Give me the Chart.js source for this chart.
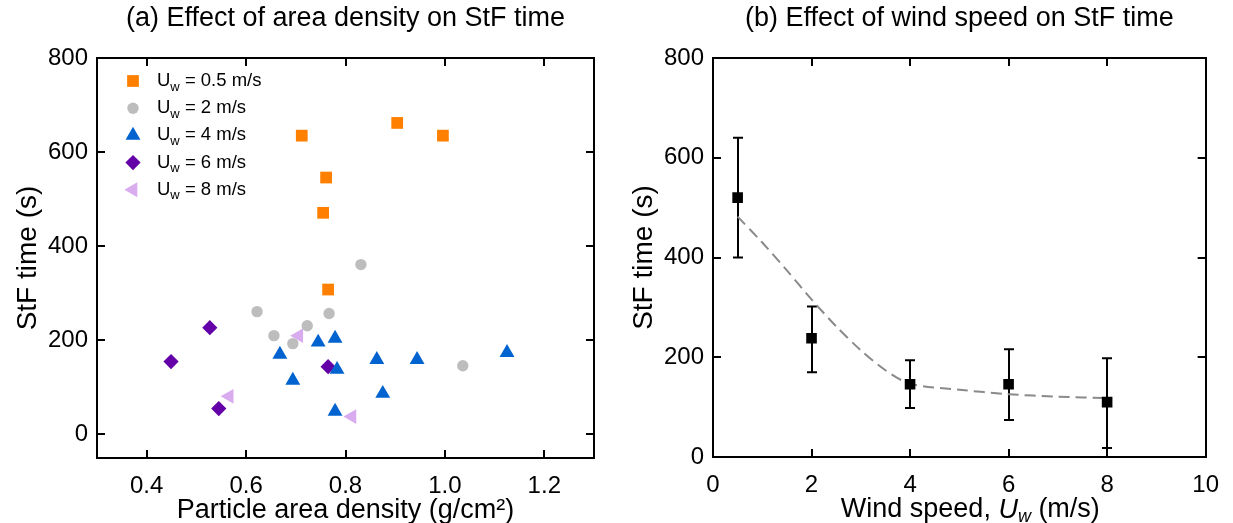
<!DOCTYPE html>
<html><head><meta charset="utf-8">
<script src="https://cdn.jsdelivr.net/npm/chart.js@4.4.1/dist/chart.umd.min.js"></script>
<style>
html,body{margin:0;padding:0;background:#fff;}
#wrap{position:relative;width:1233px;height:523px;background:#fff;}
#ca{position:absolute;left:0;top:0;}
#cb{position:absolute;left:616px;top:0;}
</style></head><body>
<div id="wrap"><canvas id="ca" width="616" height="523"></canvas><canvas id="cb" width="617" height="523"></canvas></div>
<script>
// ---------- DATA ----------
// Panel (a): particle area density (g/cm2) vs StF time (s)
const densityTicks = [0.4, 0.6, 0.8, 1.0, 1.2];
const timeTicksA = [0, 200, 400, 600, 800];
const legendLabels = ['0.5 m/s', '2 m/s', '4 m/s', '6 m/s', '8 m/s'];

const uw05Density = [0.712, 0.904, 0.996, 0.761, 0.755, 0.765];
const uw05Time    = [635, 662, 635, 546, 471, 308];
const uw2Density  = [0.622, 0.656, 0.694, 0.723, 0.767, 0.831, 1.036];
const uw2Time     = [261, 210, 193, 231, 257, 361, 146];
const uw4Density  = [0.668, 0.745, 0.779, 0.694, 0.783, 0.779, 0.863, 0.944, 0.875, 1.125];
const uw4Time     = [170, 196, 204, 115, 138, 49, 159, 159, 87, 174];
const uw6Density  = [0.527, 0.449, 0.545, 0.765];
const uw6Time     = [227, 155, 55, 144];
const uw8Density  = [0.566, 0.706, 0.813];
const uw8Time     = [81, 210, 38];

// Panel (b): wind speed vs StF time (mean with error range) and fitted trend
const windTicks = [0, 2, 4, 6, 8, 10];
const timeTicksB = [0, 200, 400, 600, 800];
const windSpeed = [0.5, 2, 4, 6, 8];
const meanTime  = [520, 238, 146, 146, 110];
const errLow    = [400, 170, 98, 74, 18];
const errHigh   = [640, 302, 194, 216, 198];
const fitWind   = [0.5, 1, 1.5, 2, 2.5, 3, 3.5, 4, 5, 6, 7, 8];
const fitTime   = [482, 430, 374, 316, 262, 214, 174, 147, 135, 126, 121, 118];

// ---------- HELPERS ----------
const FONT = "'Liberation Sans', Arial, Helvetica, sans-serif";
const pts = (xs, ys) => xs.map((x, i) => ({x: x, y: ys[i]}));
const setTicks = vals => s => { s.ticks = vals.map(v => ({value: v})); };
const border = {display: true, color: '#000', width: 2};

function drawMarker(ctx, style, rot, r, x, y, color) {
  ctx.save();
  ctx.fillStyle = color;
  Chart.helpers.drawPoint(ctx, {pointStyle: style, rotation: rot || 0, radius: r, borderWidth: 0}, x, y);
  ctx.restore();
}

const frameTicks = {
  id: 'frameTicks',
  afterDatasetsDraw(chart) {
    const {ctx, chartArea: a} = chart;
    const xs = chart.scales.x, ys = chart.scales.y, L = 8;
    ctx.save();
    ctx.strokeStyle = '#000'; ctx.lineWidth = 2;
    ctx.beginPath();
    xs.ticks.forEach(t => {
      const p = Math.round(xs.getPixelForValue(t.value));
      ctx.moveTo(p, a.bottom); ctx.lineTo(p, a.bottom - L);
      ctx.moveTo(p, a.top); ctx.lineTo(p, a.top + L);
    });
    ys.ticks.forEach(t => {
      const p = Math.round(ys.getPixelForValue(t.value));
      ctx.moveTo(a.left, p); ctx.lineTo(a.left + L, p);
      ctx.moveTo(a.right, p); ctx.lineTo(a.right - L, p);
    });
    ctx.stroke();
    ctx.restore();
  }
};

function titlePlugin(text) {
  return {
    id: 'panelTitle',
    afterDraw(chart) {
      const {ctx, chartArea: a} = chart;
      ctx.save();
      ctx.fillStyle = '#000';
      ctx.font = '27px ' + FONT;
      ctx.textAlign = 'center';
      ctx.textBaseline = 'middle';
      ctx.fillText(text, (a.left + a.right) / 2, 19);
      ctx.restore();
    }
  };
}

function makeScales(xmin, xmax, xt, ymin, ymax, yt, xTitle, xFmt, xH) {
  return {
    x: {type: 'linear', position: 'bottom', min: xmin, max: xmax,
        afterBuildTicks: setTicks(xt), afterFit: s => { s.height = xH; },
        grid: {display: false, drawTicks: false}, border: border,
        ticks: {color: '#000', font: {family: FONT, size: 24}, padding: 14, maxRotation: 0, autoSkip: false, callback: xFmt},
        title: xTitle ? {display: true, text: xTitle, color: '#000', font: {family: FONT, size: 27, lineHeight: 0.95}, padding: {top: 0, bottom: 0}} : {display: false}},
    y: {type: 'linear', position: 'left', min: ymin, max: ymax,
        afterBuildTicks: setTicks(yt), afterFit: s => { s.width = 97; },
        grid: {display: false, drawTicks: false}, border: border,
        ticks: {color: '#000', font: {family: FONT, size: 24}, padding: 9, autoSkip: false},
        title: {display: true, text: 'StF time (s)', color: '#000', font: {family: FONT, size: 28, lineHeight: 1}, padding: {top: 14, bottom: 0}}},
    x2: {type: 'linear', position: 'top', min: xmin, max: xmax, display: true,
        afterFit: s => { s.height = 0; }, grid: {display: false, drawTicks: false}, border: border, ticks: {display: false}},
    y2: {type: 'linear', position: 'right', min: ymin, max: ymax, display: true,
        afterFit: s => { s.width = 0; }, grid: {display: false, drawTicks: false}, border: border, ticks: {display: false}}
  };
}

// ---------- PANEL (a) ----------
const seriesA = [
  {xs: uw05Density, ys: uw05Time, style: 'rect', rot: 0, r: 8.3, color: '#FF8000'},
  {xs: uw2Density, ys: uw2Time, style: 'circle', rot: 0, r: 5.7, color: '#BDBDBD'},
  {xs: uw4Density, ys: uw4Time, style: 'triangle', rot: 0, r: 8.6, color: '#0063CF'},
  {xs: uw6Density, ys: uw6Time, style: 'rectRot', rot: 0, r: 7.6, color: '#6300A8'},
  {xs: uw8Density, ys: uw8Time, style: 'triangle', rot: 270, r: 8.6, color: '#D8ACEE'}
];

const legendA = {
  id: 'legendA',
  afterDraw(chart) {
    const ctx = chart.ctx;
    ctx.save();
    seriesA.forEach((s, i) => {
      const y = 81 + i * 27.2;
      drawMarker(ctx, s.style, s.rot, s.r, 133, y, s.color);
      ctx.fillStyle = '#000';
      ctx.textBaseline = 'middle';
      ctx.textAlign = 'left';
      ctx.font = '18.5px ' + FONT;
      let x = 157;
      ctx.fillText('U', x, y);
      x += ctx.measureText('U').width;
      ctx.font = '13px ' + FONT;
      ctx.fillText('w', x, y + 6);
      x += ctx.measureText('w').width;
      ctx.font = '18.5px ' + FONT;
      ctx.fillText(' = ' + legendLabels[i], x, y);
    });
    ctx.restore();
  }
};

new Chart(document.getElementById('ca'), {
  type: 'scatter',
  data: {
    datasets: seriesA.map((s, i) => ({
      label: 'Uw = ' + legendLabels[i],
      data: pts(s.xs, s.ys),
      pointStyle: s.style, pointRotation: s.rot, pointRadius: s.r, pointHoverRadius: s.r,
      pointBackgroundColor: s.color, pointBorderWidth: 0, backgroundColor: s.color, borderColor: s.color
    }))
  },
  options: {
    responsive: false, animation: false, devicePixelRatio: 1,
    layout: {padding: {left: 0, top: 58, right: 22, bottom: 0}},
    plugins: {legend: {display: false}, tooltip: {enabled: false}},
    scales: makeScales(0.3, 1.3, densityTicks, -50, 800, timeTicksA, 'Particle area density (g/cm²)', v => Number(v).toFixed(1), 65)
  },
  plugins: [frameTicks, legendA, titlePlugin('(a) Effect of area density on StF time')]
});

// ---------- PANEL (b) ----------
const errorBars = {
  id: 'errorBars',
  beforeDatasetsDraw(chart) {
    const {ctx} = chart;
    const xs = chart.scales.x, ys = chart.scales.y, cap = 5;
    ctx.save();
    ctx.strokeStyle = '#000'; ctx.lineWidth = 2;
    ctx.beginPath();
    windSpeed.forEach((w, i) => {
      const px = Math.round(xs.getPixelForValue(w));
      const lo = ys.getPixelForValue(errLow[i]), hi = ys.getPixelForValue(errHigh[i]);
      ctx.moveTo(px, lo); ctx.lineTo(px, hi);
      ctx.moveTo(px - cap, lo); ctx.lineTo(px + cap, lo);
      ctx.moveTo(px - cap, hi); ctx.lineTo(px + cap, hi);
    });
    ctx.stroke();
    ctx.restore();
  }
};

const xTitleB = {
  id: 'xTitleB',
  afterDraw(chart) {
    const {ctx, chartArea: a} = chart;
    const big = '27px ' + FONT, bigI = 'italic 27px ' + FONT, small = 'italic 18px ' + FONT;
    const parts = [['Wind speed, ', big, 0], ['U', bigI, 0], ['w', small, 7], [' (m/s)', big, 0]];
    ctx.save();
    let total = 0;
    parts.forEach(p => { ctx.font = p[1]; total += ctx.measureText(p[0]).width; });
    let x = (a.left + a.right) / 2 + 11 - total / 2;
    const y = 510;
    ctx.fillStyle = '#000'; ctx.textBaseline = 'middle'; ctx.textAlign = 'left';
    parts.forEach(p => { ctx.font = p[1]; ctx.fillText(p[0], x, y + p[2]); x += ctx.measureText(p[0]).width; });
    ctx.restore();
  }
};

new Chart(document.getElementById('cb'), {
  type: 'scatter',
  data: {
    datasets: [
      {label: 'Mean StF time', data: pts(windSpeed, meanTime), order: 0,
       pointStyle: 'rect', pointRadius: 7.5, pointHoverRadius: 7.5,
       pointBackgroundColor: '#000', pointBorderWidth: 0, backgroundColor: '#000', borderColor: '#000'},
      {label: 'Fit', type: 'line', data: pts(fitWind, fitTime), order: 1,
       borderColor: '#8A8A8A', borderWidth: 2, borderDash: [11, 6], pointRadius: 0, pointHoverRadius: 0,
       tension: 0.3, fill: false}
    ]
  },
  options: {
    responsive: false, animation: false, devicePixelRatio: 1,
    layout: {padding: {left: 0, top: 58, right: 21, bottom: 0}},
    plugins: {legend: {display: false}, tooltip: {enabled: false}},
    scales: makeScales(0, 10, windTicks, 0, 800, timeTicksB, null, v => String(v), 66)
  },
  plugins: [errorBars, frameTicks, xTitleB, titlePlugin('(b) Effect of wind speed on StF time')]
});
</script>
</body></html>
